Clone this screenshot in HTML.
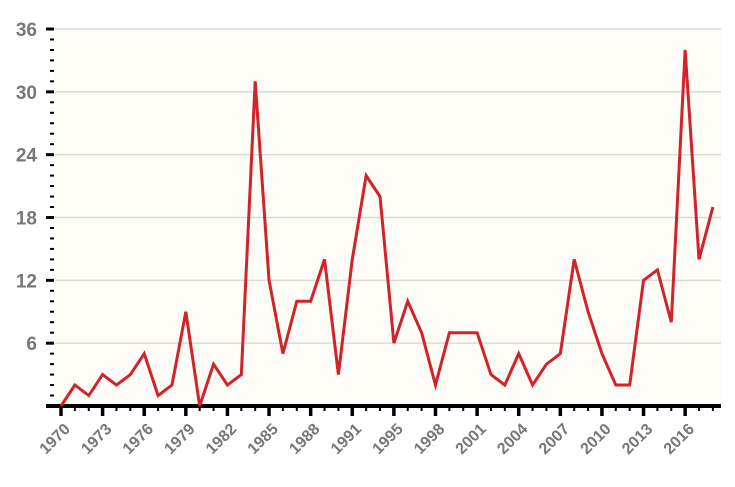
<!DOCTYPE html>
<html><head><meta charset="utf-8"><style>
html,body{margin:0;padding:0;background:#fff;width:735px;height:487px;overflow:hidden}
svg{display:block;font-family:"Liberation Sans",sans-serif}
</style></head><body>
<svg id="chart" width="735" height="487" viewBox="0 0 735 487" xmlns="http://www.w3.org/2000/svg">
<rect x="55" y="29" width="666" height="377" fill="#fdfcf6"/>
<g id="grid"></g><g id="yaxis"></g><g id="xaxis"></g><g id="series"></g>
</svg>
<script>
const years = [];
for (let y = 1970; y <= 2017; y++) years.push(y);
const values = [0,2,1,3,2,3,5,1,2,9,0,4,2,3,31,12,5,10,10,14,3,14,22,20,6,10,7,2,7,7,7,3,2,5,2,4,5,14,9,5,2,2,12,13,8,34,14,19];
const yTicks = [0,6,12,18,24,30,36];
const xTickLabels = ["1970","1973","1976","1979","1982","1985","1988","1991","1995","1998","2001","2004","2007","2010","2013","2016"];
const NS = "http://www.w3.org/2000/svg";
const x0 = 61, xStep = 13.87, yBase = 406, yTop = 29, yMax = 36;
const xs = i => x0 + i * xStep;
const ys = v => yBase - (v / yMax) * (yBase - yTop);
function mk(tag, attrs, parent){const e=document.createElementNS(NS,tag);for(const k in attrs)e.setAttribute(k,attrs[k]);parent.appendChild(e);return e;}
const grid=document.getElementById('grid'), ya=document.getElementById('yaxis'), xa=document.getElementById('xaxis'), se=document.getElementById('series');
yTicks.forEach(t=>{
  if(t>0){const g=mk('line',{x1:55,x2:721,y1:ys(t),y2:ys(t),stroke:'#dcdcd6','stroke-width':1.5},grid);
  
  
  const lb=mk('text',{x:37,y:ys(t)+7,'text-anchor':'end','font-size':19,'font-weight':'bold',fill:'#777'},ya);
  lb.textContent=t;
  
  }
  const tk=mk('line',{x1:46,x2:54,y1:ys(t),y2:ys(t),stroke:'#000','stroke-width':3},ya);
  
  
});
for(let v=1;v<36;v++){ if(v%6===0) continue;
  const m=mk('line',{x1:50,x2:54,y1:ys(v),y2:ys(v),stroke:'#000','stroke-width':2},ya);
  
  
}
const ax=mk('line',{x1:46,x2:721,y1:yBase,y2:yBase,stroke:'#000','stroke-width':4},xa);


years.forEach((y,i)=>{
  const major=i%3===0;
  const t=mk('line',{x1:xs(i),x2:xs(i),y1:yBase,y2:yBase+(major?10:5),stroke:'#000','stroke-width':major?3.5:2},xa);
  
  
});
xTickLabels.forEach((lab,k)=>{
  const x=xs(k*3)+10, y=yBase+24;
  const tx=mk('text',{x:x,y:y,'text-anchor':'end','font-size':16,'font-weight':'bold',fill:'#777',transform:`rotate(-45 ${x} ${y})`},xa);
  tx.textContent=lab;
  
  
});
const p=mk('polyline',{points:values.map((v,i)=>xs(i)+','+ys(v)).join(' '),fill:'none',stroke:'#d0232a','stroke-width':3,'stroke-linejoin':'miter'},se);


</script>
</body></html>
